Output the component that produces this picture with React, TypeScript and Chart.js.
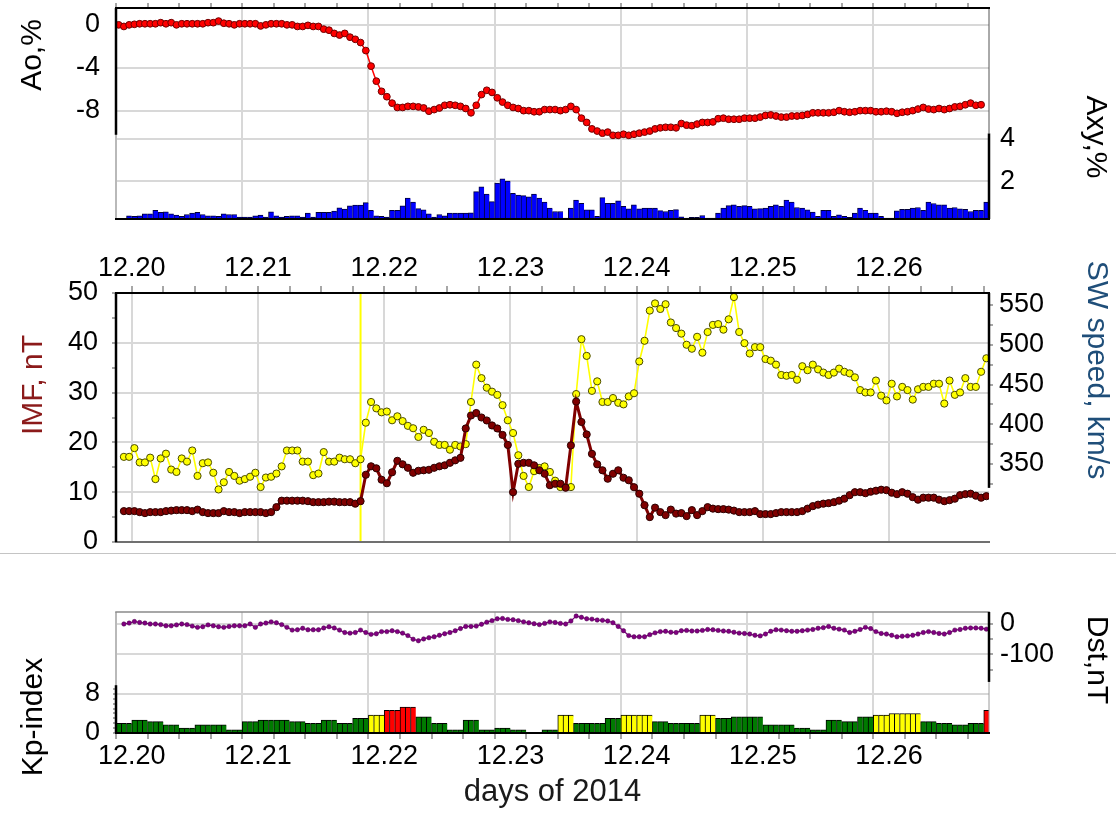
import React, { useEffect, useRef } from 'react';
import { Chart, registerables } from 'chart.js';

// ---------------------------------------------------------------------------
// Time base: hourly samples from 2014-12-19 21:00 UT, x in days of December.
// ---------------------------------------------------------------------------
const START_DAY = 19.875;
const HOUR_COUNT = 166;
const END_DAY = START_DAY + HOUR_COUNT / 24;
const SHOCK_DAY = 21.8125; // shock arrival marker

const DAY_TICKS = [20, 21, 22, 23, 24, 25, 26];
const DAY_LABELS = ['12.20', '12.21', '12.22', '12.23', '12.24', '12.25', '12.26'];

const AO_LABELS = [0, -4, -8];
const AXY_LABELS = [2, 4];
const IMF_LABELS = [0, 10, 20, 30, 40, 50];
const SW_LABELS = [350, 400, 450, 500, 550];
const KP_LABELS = [0, 8];
const DST_LABELS = [0, -100];

// Anisotropy of cosmic rays, %
const aoPercent = [
  0.0, -0.15, 0.0, 0.05, 0.1, 0.1, 0.1, 0.1, 0.2, 0.1,
  0.2, 0.0, 0.1, 0.1, 0.1, 0.1, 0.1, 0.2, 0.2, 0.35,
  0.15, 0.1, 0.0, 0.1, 0.1, 0.1, 0.1, -0.1, 0.0, 0.1,
  0.1, 0.1, 0.0, 0.0, -0.15, -0.15, -0.05, -0.15, -0.15, -0.4,
  -0.5, -0.8, -0.95, -0.8, -1.15, -1.35, -1.65, -2.4, -3.85, -5.25,
  -6.2, -6.7, -7.3, -7.7, -7.7, -7.6, -7.6, -7.65, -7.75, -8.05,
  -7.9, -7.75, -7.5, -7.45, -7.5, -7.6, -7.8, -8.2, -7.5, -6.5,
  -6.1, -6.3, -6.8, -7.2, -7.5, -7.7, -7.8, -8.0, -8.0, -8.1,
  -8.1, -7.9, -7.9, -7.9, -8.0, -7.9, -7.6, -7.9, -8.7, -9.1,
  -9.7, -9.9, -10.1, -10.0, -10.3, -10.3, -10.2, -10.3, -10.2, -10.1,
  -10.0, -9.9, -9.7, -9.6, -9.55, -9.55, -9.6, -9.2, -9.35, -9.4,
  -9.25, -9.1, -9.1, -9.05, -8.75, -8.7, -8.8, -8.8, -8.8, -8.7,
  -8.7, -8.7, -8.6, -8.45, -8.4, -8.5, -8.6, -8.6, -8.5, -8.5,
  -8.45, -8.35, -8.2, -8.2, -8.2, -8.2, -8.15, -8.0, -8.1, -8.15,
  -8.1, -8.0, -8.0, -8.0, -8.1, -8.1, -8.05, -8.1, -8.25, -8.15,
  -8.1, -8.0, -7.85, -7.7, -7.85, -7.9, -7.8, -7.9, -7.8, -7.65,
  -7.6, -7.45, -7.3, -7.5, -7.45,
];

// Equatorial anisotropy component, %
const axyPercent = [
  0.2, 0.2, 0.36, 0.33, 0.36, 0.45, 0.45, 0.61, 0.52, 0.55,
  0.45, 0.39, 0.33, 0.42, 0.48, 0.52, 0.42, 0.36, 0.36, 0.33,
  0.45, 0.42, 0.42, 0.3, 0.3, 0.3, 0.36, 0.39, 0.3, 0.55,
  0.36, 0.3, 0.33, 0.36, 0.36, 0.3, 0.48, 0.3, 0.52, 0.52,
  0.52, 0.58, 0.73, 0.67, 0.83, 0.86, 0.86, 0.98, 0.61, 0.36,
  0.33, 0.3, 0.61, 0.61, 0.83, 1.2, 1.0, 0.7, 0.64, 0.45,
  0.3, 0.42, 0.36, 0.48, 0.48, 0.48, 0.48, 0.5, 1.5, 1.73,
  1.38, 1.03, 1.9, 2.1, 2.0, 1.42, 1.34, 1.31, 1.25, 1.38,
  1.19, 1.0, 0.72, 0.56, 0.56, 0.25, 0.72, 1.1, 0.95, 0.64,
  0.64, 0.33, 1.22, 0.95, 0.95, 1.06, 0.8, 0.69, 0.87, 0.69,
  0.72, 0.72, 0.72, 0.6, 0.56, 0.62, 0.65, 0.31, 0.25, 0.28,
  0.28, 0.37, 0.25, 0.25, 0.48, 0.72, 0.84, 0.87, 0.8, 0.84,
  0.8, 0.69, 0.7, 0.72, 0.8, 0.87, 0.8, 1.1, 1.0, 0.75,
  0.72, 0.64, 0.53, 0.33, 0.62, 0.62, 0.33, 0.4, 0.33, 0.28,
  0.48, 0.72, 0.62, 0.48, 0.48, 0.33, 0.25, 0.25, 0.59, 0.66,
  0.66, 0.72, 0.75, 0.62, 1.0, 0.94, 0.87, 0.87, 0.72, 0.75,
  0.69, 0.66, 0.56, 0.62, 0.62, 1.0,
];

// Interplanetary magnetic field magnitude, nT
const imfNt = [
  null, 6.2, 6.2, 6.2, 6.0, 5.8, 6.0, 6.0, 6.0, 6.2,
  6.3, 6.4, 6.4, 6.4, 6.2, 6.5, 6.0, 5.8, 5.8, 5.8,
  6.2, 6.0, 6.0, 5.8, 6.0, 6.0, 6.0, 6.0, 5.8, 6.0,
  7.0, 8.3, 8.3, 8.3, 8.3, 8.3, 8.2, 8.0, 8.0, 8.0,
  8.1, 8.1, 8.0, 8.0, 8.0, 7.7, 8.2, 13.5, 15.2, 14.8,
  12.5, 11.8, 14.0, 16.3, 15.6, 14.9, 13.9, 14.3, 14.4, 14.5,
  14.9, 15.2, 15.4, 15.9, 16.4, 16.9, 22.8, 25.4, 25.9, 25.0,
  24.4, 23.4, 22.8, 21.5, 19.5, 10.0, 15.7, 15.9, 15.9, 15.4,
  14.4, 13.7, 11.4, 11.7, 11.7, 10.9, 19.4, 28.2, 24.1, 21.6,
  17.7, 15.6, 14.4, 12.7, 13.7, 14.4, 12.9, 12.4, 11.0, 9.7,
  7.4, 5.0, 6.9, 6.0, 5.4, 6.5, 5.7, 5.8, 5.2, 6.4,
  5.4, 6.2, 7.0, 6.7, 6.6, 6.6, 6.5, 6.3, 6.0, 6.0,
  6.0, 6.2, 5.6, 5.6, 5.6, 5.8, 6.0, 6.0, 6.0, 6.0,
  6.2, 6.7, 7.2, 7.5, 7.7, 7.8, 8.0, 8.3, 8.7, 9.4,
  10.0, 10.0, 9.8, 10.1, 10.3, 10.5, 10.4, 9.9, 9.6, 10.0,
  9.7, 9.0, 8.5, 8.9, 8.9, 8.9, 8.5, 8.2, 8.4, 8.7,
  9.4, 9.6, 9.7, 9.3, 8.9, 9.2,
];

// Solar wind speed, km/s
const swSpeedKms = [
  null, 359, 359, 370, 352, 352, 358, 331, 357, 363,
  343, 340, 357, 353, 367, 335, 351, 352, 339, 318,
  327, 340, 335, 329, 331, 334, 339, 321, 333, 334,
  338, 347, 367, 367, 367, 353, 353, 336, 338, 365,
  353, 353, 358, 356, 356, 351, 356, 402, 428, 420,
  415, 416, 405, 410, 404, 398, 395, 384, 393, 389,
  378, 374, 374, 368, 374, 372, 375, 428, 475, 458,
  446, 441, 437, 424, 405, 389, 361, 335, 321, 341,
  345, 347, 340, 329, 321, 321, 321, 438, 507, 486,
  442, 454, 428, 428, 433, 427, 425, 435, 439, 479,
  505, 543, 552, 545, 551, 528, 521, 514, 500, 495,
  510, 490, 516, 525, 526, 519, 532, 560, 516, 502,
  489, 497, 497, 482, 480, 475, 462, 461, 462, 456,
  473, 468, 475, 469, 465, 462, 465, 470, 466, 464,
  459, 443, 440, 440, 455, 436, 430, 451, 435, 447,
  443, 431, 444, 447, 447, 451, 451, 426, 455, 437,
  440, 458, 447, 447, 466, 483,
];

// Dst index, nT
const dstNt = [
  null, 0, 3, 8, 5, 3, 0, 0, -2, -6,
  -6, -3, 0, -2, -7, -11, -9, -3, -6, -9,
  -11, -8, -6, -6, -6, 0, -11, 0, 3, 7,
  4, -2, -11, -20, -19, -14, -19, -19, -19, -13,
  -9, -13, -20, -28, -30, -28, -20, -28, -34, -32,
  -25, -25, -22, -25, -30, -38, -50, -55, -49, -45,
  -42, -37, -32, -28, -22, -15, -8, -8, -7, -1,
  6, 11, 17, 18, 15, 14, 11, 7, 4, 1,
  -2, 2, 7, 5, 2, 0, 10, 26, 22, 17,
  16, 13, 12, 10, 4, -8, -22, -38, -42, -42,
  -42, -35, -29, -25, -24, -27, -28, -22, -21, -23,
  -23, -21, -18, -19, -21, -23, -24, -27, -30, -31,
  -33, -37, -39, -33, -24, -19, -20, -22, -24, -24,
  -22, -20, -18, -14, -12, -8, -14, -17, -20, -28,
  -24, -18, -11, -15, -25, -31, -33, -37, -42, -40,
  -39, -37, -33, -28, -25, -28, -31, -33, -28, -20,
  -18, -14, -13, -13, -14, -17,
];

// Three-hour Kp index, first interval Dec 19 21-24 UT
const kpIndex = [
  2, 2.67, 2.33, 1.67, 1, 1.67, 1.67, 0.67,
  2.33, 2.67, 2.67, 2.33, 2, 2.67, 2, 3,
  3.67, 4.67, 5.33, 3.33, 2, 0.67, 2.67, 0.67,
  1, 0.67, 0, 0.67, 3.67, 2, 2, 3,
  3.67, 3.67, 2.33, 2, 2, 3.67, 3, 3.33,
  3.33, 1.67, 1.67, 1, 0.67, 2.67, 2.33, 3.33,
  3.67, 4, 4, 2.33, 2, 1.67, 2, 4.67,
];

// ---------------------------------------------------------------------------
// Styling
// ---------------------------------------------------------------------------
const FONT = '"Liberation Sans", Arial, Helvetica, sans-serif';
const GRID = '#d8d8d8';
const TICK = '#8a8a8a';
const CLEAR = 'rgba(0,0,0,0)';
const TICK_FONT = { family: FONT, size: 27 };

Chart.register(...registerables);
Chart.defaults.font.family = FONT;
Chart.defaults.color = '#000';

const hourX = (i: number) => START_DAY + (i + 0.5) / 24;
const toPoints = (values: (number | null)[]) => values.map((y, i) => ({ x: hourX(i), y }));
const sixHourTicks = Array.from({ length: 28 }, (_, k) => 20 + k * 0.25);

const kpColor = (kp: number) => (kp >= 4.5 ? '#ff0000' : kp >= 3.5 ? '#ffff00' : '#007a00');
const kpHourly = Array.from({ length: HOUR_COUNT }, (_, i) => ({ x: hourX(i), y: kpIndex[Math.floor(i / 3)] }));

// Draws the panel frame: full top/bottom edges and partial axis lines.
const framePlugin = {
  id: 'frame',
  afterDraw(chart: any, _args: any, opts: any) {
    const { ctx, chartArea: a } = chart;
    ctx.save();
    for (const seg of opts.segments || []) {
      ctx.beginPath();
      ctx.strokeStyle = seg.color;
      ctx.lineWidth = seg.width;
      if (seg.edge === 'top' || seg.edge === 'bottom') {
        const y = seg.edge === 'top' ? a.top : a.bottom;
        ctx.moveTo(a.left - seg.width / 2, y);
        ctx.lineTo(a.right + seg.width / 2, y);
      } else {
        const x = seg.edge === 'left' ? a.left : a.right;
        const sc = seg.scale ? chart.scales[seg.scale] : null;
        const y1 = sc && seg.from != null ? sc.getPixelForValue(seg.from) : a.top;
        const y2 = sc && seg.to != null ? sc.getPixelForValue(seg.to) : a.bottom;
        ctx.moveTo(x, y1);
        ctx.lineTo(x, y2);
      }
      ctx.stroke();
    }
    ctx.restore();
  },
};

// Vertical event markers across the plot area.
const markerPlugin = {
  id: 'markers',
  beforeDatasetsDraw(chart: any, _args: any, opts: any) {
    const { ctx, chartArea: a, scales } = chart;
    ctx.save();
    for (const m of opts.lines || []) {
      const x = scales.x.getPixelForValue(m.value);
      ctx.beginPath();
      ctx.strokeStyle = m.color;
      ctx.lineWidth = m.width;
      ctx.moveTo(x, a.top);
      ctx.lineTo(x, a.bottom);
      ctx.stroke();
    }
    ctx.restore();
  },
};

Chart.register(framePlugin, markerPlugin);

function timeScale(position: string, height: number, tickLength: number, showLabels: boolean, padding: number, title?: any) {
  return {
    type: 'linear',
    position,
    min: START_DAY,
    max: END_DAY,
    offset: false,
    afterBuildTicks: (s: any) => {
      s.ticks = sixHourTicks.map((value) => ({ value }));
    },
    afterFit: (s: any) => {
      s.height = height;
      s.paddingLeft = 0;
      s.paddingRight = 0;
    },
    grid: {
      color: (c: any) => (c.tick && DAY_TICKS.includes(c.tick.value) ? GRID : CLEAR),
      lineWidth: 2,
      drawTicks: true,
      tickLength,
      tickColor: TICK,
      tickWidth: 1.5,
    },
    border: { display: false },
    ticks: {
      display: showLabels,
      autoSkip: false,
      maxRotation: 0,
      minRotation: 0,
      padding,
      color: '#000',
      font: TICK_FONT,
      callback: (v: number) => {
        const i = DAY_TICKS.indexOf(v);
        return i >= 0 ? DAY_LABELS[i] : '';
      },
    },
    title: title || { display: false },
  };
}

function valueScale(o: any) {
  return {
    type: 'linear',
    position: o.position,
    min: o.min,
    max: o.max,
    afterBuildTicks: (s: any) => {
      s.ticks = o.ticks.map((value: number) => ({ value }));
    },
    afterFit: (s: any) => {
      s.width = o.width;
      s.paddingTop = 0;
      s.paddingBottom = 0;
    },
    grid: {
      color: (c: any) => (c.tick && o.grid.includes(c.tick.value) ? GRID : CLEAR),
      lineWidth: 2,
      drawTicks: o.tickLength > 0,
      tickLength: o.tickLength,
      tickColor: o.tickLength > 0 ? TICK : CLEAR,
      tickWidth: 1.5,
    },
    border: { display: false },
    ticks: {
      padding: o.padding,
      color: '#000',
      font: TICK_FONT,
      autoSkip: false,
      callback: (v: number) => (o.labels.includes(v) ? String(v) : ''),
    },
  };
}

const baseOptions = (padding: any) => ({
  responsive: false,
  maintainAspectRatio: false,
  animation: false,
  devicePixelRatio: 1,
  events: [],
  layout: { padding },
});

function anisotropyConfig(): any {
  return {
    type: 'bar',
    data: {
      datasets: [
        {
          type: 'line',
          data: toPoints(aoPercent),
          yAxisID: 'yAo',
          borderColor: '#ff0000',
          borderWidth: 1.5,
          pointRadius: 3.4,
          pointBackgroundColor: '#ff0000',
          pointBorderColor: '#6e0000',
          pointBorderWidth: 1,
          tension: 0,
        },
        {
          type: 'bar',
          data: toPoints(axyPercent),
          yAxisID: 'yAxy',
          backgroundColor: '#0000ff',
          borderColor: '#00003a',
          borderWidth: { top: 1, left: 1, right: 0, bottom: 0 },
          borderSkipped: false,
          barPercentage: 1,
          categoryPercentage: 1,
          grouped: false,
        },
      ],
    },
    options: {
      ...baseOptions({ top: 0, bottom: 3, left: 0, right: 0 }),
      plugins: {
        legend: { display: false },
        tooltip: { enabled: false },
        frame: {
          segments: [
            { edge: 'left', scale: 'yAo', from: -10.25, color: '#9a9a9a', width: 1 },
            { edge: 'right', scale: 'yAxy', to: 4.25, color: '#555', width: 1 },
            { edge: 'top', color: '#000', width: 2 },
            { edge: 'bottom', color: '#000', width: 2 },
            { edge: 'left', scale: 'yAo', to: -10.25, color: '#000', width: 2.5 },
            { edge: 'right', scale: 'yAxy', from: 4.25, color: '#000', width: 2.5 },
          ],
        },
      },
      scales: {
        x: timeScale('top', 8, 5, false, 0),
        yAo: valueScale({
          position: 'left', min: -18.1, max: 1.57, ticks: AO_LABELS, labels: AO_LABELS, grid: AO_LABELS,
          width: 116, tickLength: 0, padding: 16,
        }),
        yAxy: valueScale({
          position: 'right', min: 0.206, max: 10.18, ticks: AXY_LABELS, labels: AXY_LABELS, grid: AXY_LABELS,
          width: 127, tickLength: 0, padding: 11,
        }),
      },
    },
  };
}

function solarWindConfig(): any {
  return {
    type: 'line',
    data: {
      datasets: [
        {
          data: toPoints(imfNt),
          yAxisID: 'yImf',
          borderColor: '#800000',
          borderWidth: 3,
          pointRadius: 3.6,
          pointBackgroundColor: '#800000',
          pointBorderColor: '#2a0000',
          pointBorderWidth: 1,
        },
        {
          data: toPoints(swSpeedKms),
          yAxisID: 'ySw',
          borderColor: '#ffff00',
          borderWidth: 1.6,
          pointRadius: 3.6,
          pointBackgroundColor: '#ffff00',
          pointBorderColor: '#4a4a00',
          pointBorderWidth: 1,
        },
      ],
    },
    options: {
      ...baseOptions({ top: 0, bottom: 8, left: 0, right: 0 }),
      plugins: {
        legend: { display: false },
        tooltip: { enabled: false },
        markers: { lines: [{ value: SHOCK_DAY, color: '#ffff00', width: 2 }] },
        frame: {
          segments: [
            { edge: 'right', scale: 'ySw', to: 320, color: '#888', width: 1 },
            { edge: 'top', color: '#000', width: 2 },
            { edge: 'bottom', color: '#707070', width: 2 },
            { edge: 'left', color: '#000', width: 2.5 },
            { edge: 'right', scale: 'ySw', from: null, to: 320, color: '#000', width: 2.5 },
          ],
        },
      },
      scales: {
        x: timeScale('top', 63, 7, true, 0.8),
        yImf: valueScale({
          position: 'left', min: 0, max: 50,
          ticks: [0, 5, 10, 15, 20, 25, 30, 35, 40, 45, 50], labels: IMF_LABELS, grid: IMF_LABELS,
          width: 116, tickLength: 4, padding: 14,
        }),
        ySw: valueScale({
          position: 'right', min: 251.9, max: 565.1,
          ticks: [325, 350, 375, 400, 425, 450, 475, 500, 525, 550], labels: SW_LABELS, grid: [],
          width: 127, tickLength: 4, padding: 6,
        }),
      },
    },
  };
}

function geomagneticConfig(): any {
  return {
    type: 'bar',
    data: {
      datasets: [
        {
          type: 'line',
          data: toPoints(dstNt),
          yAxisID: 'yDst',
          borderColor: '#800080',
          borderWidth: 1.2,
          pointRadius: 2.2,
          pointBackgroundColor: '#800080',
          pointBorderColor: '#4a004a',
          pointBorderWidth: 0.5,
        },
        {
          type: 'bar',
          data: kpHourly,
          yAxisID: 'yKp',
          backgroundColor: kpHourly.map((p) => kpColor(p.y)),
          borderColor: '#000',
          borderWidth: { top: 1, left: 1, right: 0, bottom: 0 },
          borderSkipped: false,
          barPercentage: 1,
          categoryPercentage: 1,
          grouped: false,
        },
      ],
    },
    options: {
      ...baseOptions({ top: 22, bottom: 0, left: 0, right: 0 }),
      plugins: {
        legend: { display: false },
        tooltip: { enabled: false },
        frame: {
          segments: [
            { edge: 'left', scale: 'yKp', from: null, to: 9.8, color: '#9a9a9a', width: 1 },
            { edge: 'right', scale: 'yDst', from: -190, color: '#9a9a9a', width: 1 },
            { edge: 'top', color: '#8a8a8a', width: 1.5 },
            { edge: 'bottom', color: '#000', width: 2 },
            { edge: 'left', scale: 'yKp', from: 9.8, to: 0, color: '#000', width: 2.5 },
            { edge: 'right', scale: 'yDst', to: -190, color: '#000', width: 2.5 },
          ],
        },
      },
      scales: {
        x: timeScale('bottom', 81, 6, true, 1.8, {
          display: true,
          text: 'days of 2014',
          color: '#1a1a1a',
          font: { family: FONT, size: 31 },
          padding: { top: 0, bottom: 3 },
        }),
        yKp: valueScale({
          position: 'left', min: 0, max: 24.8,
          ticks: [0, 1, 2, 3, 4, 5, 6, 7, 8, 9], labels: KP_LABELS, grid: [8],
          width: 116, tickLength: 3, padding: 13,
        }),
        yDst: valueScale({
          position: 'right', min: -357.4, max: 39.3,
          ticks: [0, -50, -100, -150], labels: DST_LABELS, grid: DST_LABELS,
          width: 127, tickLength: 4, padding: 7,
        }),
      },
    },
  };
}

const axisTitles = [
  { text: 'Ao,%', x: 31, y: 55, rotate: -90, color: '#000' },
  { text: 'Axy,%', x: 1097, y: 137, rotate: 90, color: '#000' },
  { text: 'IMF, nT', x: 32, y: 385, rotate: -90, color: '#8b1a1a' },
  { text: 'SW speed, km/s', x: 1098, y: 370, rotate: 90, color: '#1f4e79' },
  { text: 'Kp-index', x: 32, y: 717, rotate: -90, color: '#000' },
  { text: 'Dst,nT', x: 1098, y: 660, rotate: 90, color: '#000' },
];

export default function App() {
  const topRef = useRef<HTMLCanvasElement>(null);
  const midRef = useRef<HTMLCanvasElement>(null);
  const lowRef = useRef<HTMLCanvasElement>(null);

  useEffect(() => {
    const charts = [
      new Chart(topRef.current as HTMLCanvasElement, anisotropyConfig()),
      new Chart(midRef.current as HTMLCanvasElement, solarWindConfig()),
      new Chart(lowRef.current as HTMLCanvasElement, geomagneticConfig()),
    ];
    return () => charts.forEach((c) => c.destroy());
  }, []);

  const canvasStyle = (top: number, height: number): React.CSSProperties => ({
    position: 'absolute', left: 0, top, width: 1116, height, display: 'block',
  });

  return (
    <div style={{ position: 'absolute', left: 0, top: 0, width: 1116, height: 814, background: '#fff', overflow: 'hidden' }}>
      <canvas ref={topRef} width={1116} height={224} style={canvasStyle(0, 224)} />
      <canvas ref={midRef} width={1116} height={320} style={canvasStyle(230, 320)} />
      <div style={{ position: 'absolute', left: 0, top: 553, width: 1116, height: 1, background: '#c4c4c4' }} />
      <canvas ref={lowRef} width={1116} height={224} style={canvasStyle(590, 224)} />
      {axisTitles.map((t) => (
        <div
          key={t.text}
          style={{
            position: 'absolute', left: t.x, top: t.y,
            transform: `translate(-50%, -50%) rotate(${t.rotate}deg)`,
            whiteSpace: 'nowrap', fontFamily: FONT, fontSize: 30, lineHeight: 1, color: t.color,
          }}
        >
          {t.text}
        </div>
      ))}
    </div>
  );
}
